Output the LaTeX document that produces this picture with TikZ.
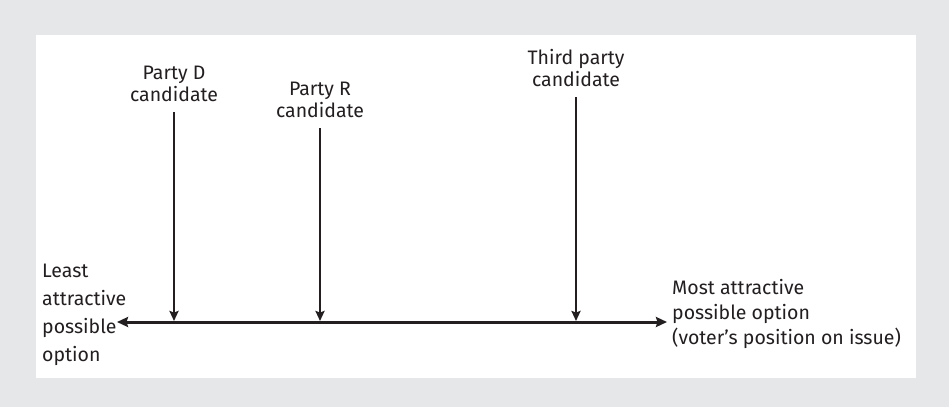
\documentclass[tikz,border=0pt]{standalone}
\usepackage{fontspec}
\setmainfont{Fira Sans}
\usetikzlibrary{arrows.meta}
\definecolor{bggray}{HTML}{E6E7E8}
\definecolor{ink}{HTML}{231F20}
\begin{document}
\begin{tikzpicture}[x=1pt,y=-1pt,
  lbl/.style={font=\fontsize{19.5}{22.5}\selectfont, text=ink, align=center, inner sep=0pt},
  sidelbl/.style={font=\fontsize{19.5}{25}\selectfont, text=ink, align=left, inner sep=0pt, anchor=west},
  axisline/.style={draw=ink, line width=3pt, {Stealth[length=11pt,width=10pt,inset=1.5pt]}-{Stealth[length=11pt,width=10pt,inset=1.5pt]}},
  varrow/.style={draw=ink, line width=2.2pt, -{Stealth[length=10pt,width=9pt,inset=1.5pt]}, shorten <=10pt}]
\fill[bggray] (0,0) rectangle (949,407);
\fill[white] (36,35) rectangle (916,378);
\useasboundingbox (0,0) rectangle (949,407);
% labels
\node[lbl] (pd) at (174,84) {Party D\\candidate};
\node[lbl] (pr) at (320,100) {Party R\\candidate};
\node[lbl] (tp) at (576,68) {Third party\\candidate};
\node[sidelbl, font=\fontsize{19.5}{28}\selectfont] (least) at (42,315) {Least\\attractive\\possible\\option};
\node[sidelbl] (most) at (672,314) {Most attractive\\possible option\\(voter's position on issue)};
% axis
\coordinate (L) at (117,322);
\coordinate (R) at (667,322);
\draw[axisline] (L) -- (R);
% candidate positions
\coordinate (dA) at (174,321);
\coordinate (rA) at (320,321);
\coordinate (tA) at (576,321);
\draw[varrow] (pd) -- (dA);
\draw[varrow] (pr) -- (rA);
\draw[varrow] (tp) -- (tA);
\end{tikzpicture}
\end{document}
